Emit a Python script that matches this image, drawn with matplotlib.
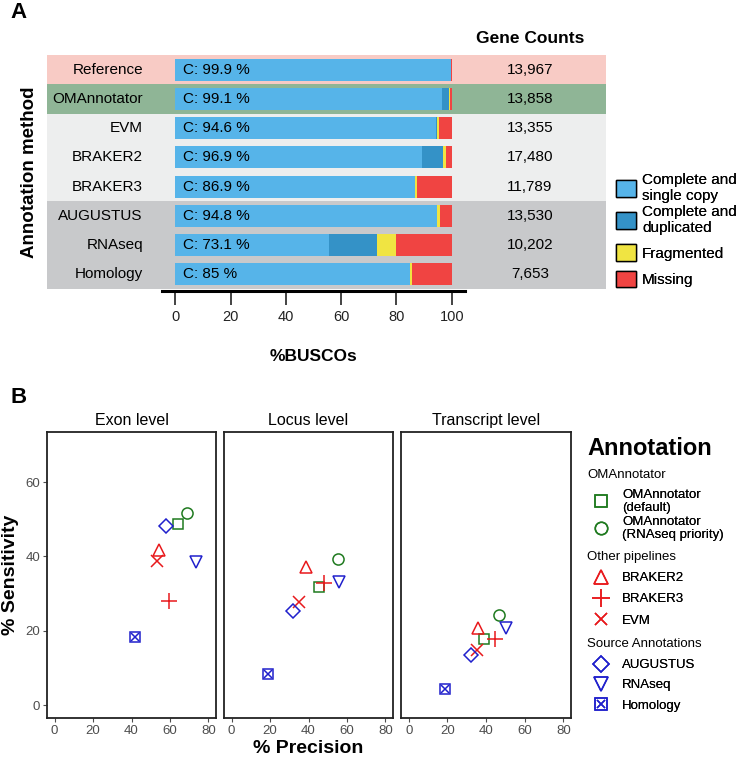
import matplotlib
matplotlib.use("Agg")
from matplotlib import pyplot as plt
from matplotlib.patches import Patch
from matplotlib.lines import Line2D
from matplotlib.legend_handler import HandlerTuple
import numpy as np

plt.rcParams['font.family'] = ['Liberation Sans', 'DejaVu Sans']

# ---- panel A data ----
methods = ["Reference", "OMAnnotator", "EVM", "BRAKER2", "BRAKER3",
           "AUGUSTUS", "RNAseq", "Homology"]
complete = [99.9, 99.1, 94.6, 96.9, 86.9, 94.8, 73.1, 85.0]
single = [99.9, 96.6, 94.3, 89.2, 86.7, 94.6, 55.6, 85.0]
fragmented = [0.0, 0.3, 0.7, 1.2, 0.4, 0.8, 6.9, 0.5]
missing = [0.1, 0.6, 4.7, 1.9, 12.7, 4.4, 20.0, 14.5]
gene_counts = ["13,967", "13,858", "13,355", "17,480", "11,789",
               "13,530", "10,202", "7,653"]
row_group = ["ref", "oma", "other", "other", "other", "src", "src", "src"]
busco_labels = ["Complete and\nsingle copy", "Complete and\nduplicated",
                "Fragmented", "Missing"]

# ---- panel B data ----
levels = ["Exon level", "Locus level", "Transcript level"]
tools = ["OMAnnotator (default)", "OMAnnotator (RNAseq priority)", "BRAKER2",
         "BRAKER3", "EVM", "AUGUSTUS", "RNAseq", "Homology"]
precision = {
    "Exon level":       [64.0, 68.8, 54.4, 59.4, 53.5, 57.8, 73.5, 41.6],
    "Locus level":      [45.4, 55.2, 38.5, 48.3, 35.0, 32.0, 56.0, 18.8],
    "Transcript level": [38.9, 46.5, 35.9, 44.6, 35.2, 32.1, 50.6, 18.7],
}
sensitivity = {
    "Exon level":       [48.6, 51.8, 41.7, 28.1, 38.8, 48.1, 38.6, 18.3],
    "Locus level":      [31.7, 39.3, 37.1, 32.9, 27.6, 25.4, 33.1, 8.4],
    "Transcript level": [17.9, 24.3, 20.7, 17.9, 14.7, 13.5, 20.8, 4.4],
}

busco_colors = ["#56B4E9", "#3492C7", "#F0E442", "#F04442"]
bg_colors = {"ref": "#F8CBC5", "oma": "#8FB596", "other": "#EDEEEE", "src": "#C8C9CB"}
green, red, blue = "#1F7A1F", "#E8191C", "#2020CC"
tool_style = {
    "OMAnnotator (default)": (green, "s", 7.5),
    "OMAnnotator (RNAseq priority)": (green, "o", 8),
    "BRAKER2": (red, "^", 9),
    "BRAKER3": (red, "+", 11),
    "EVM": (red, "x", 8),
    "AUGUSTUS": (blue, "D", 7),
    "RNAseq": (blue, "v", 9),
    "Homology": (blue, "s", 7.5),
}

W, H = 752, 759
fig = plt.figure(figsize=(W / 100, H / 100), dpi=100)


def px_axes(x0, y0, x1, y1):
    return fig.add_axes([x0 / W, 1 - y1 / H, (x1 - x0) / W, (y1 - y0) / H])


# ================= panel A =================
ax = px_axes(47, 55, 606, 289)
ppu = (451.7 - 175) / 100
ax.set_xlim((47 - 175) / ppu, (606 - 175) / ppu)
n = len(methods)
ax.set_ylim(n - 0.5, -0.5)
ax.axis("off")

y = np.arange(n)
for i, g in enumerate(row_group):
    ax.axhspan(i - 0.5, i + 0.5, color=bg_colors[g], lw=0, zorder=0)

single = np.array(single)
dup = np.array(complete) - single
frag = np.array(fragmented)
miss = np.array(missing)
left = np.zeros(n)
for vals, c in zip([single, dup, frag, miss], busco_colors):
    ax.barh(y, vals, left=left, height=0.75, color=c, lw=0, zorder=2)
    left = left + vals

for i in range(n):
    ax.text(3, i, f"C: {complete[i]:g} %", va="center", ha="left", fontsize=11, zorder=3)
    ax.text(-11.6, i, methods[i], va="center", ha="right", fontsize=11)
    ax.text(128.3, i, gene_counts[i], va="center", ha="center", fontsize=11)
ax.text(128.3, -1.07, "Gene Counts", va="center", ha="center", fontsize=12.5,
        fontweight="bold")

# x axis of panel A
axx = px_axes(162, 285, 465, 291)
axx.set_xlim(-4.8, 104.8)
axx.set_yticks([])
axx.patch.set_alpha(0)
for s in ["top", "left", "right"]:
    axx.spines[s].set_visible(False)
axx.spines["bottom"].set_linewidth(2.2)
axx.set_xticks([0, 20, 40, 60, 80, 100])
axx.tick_params(axis="x", length=10, width=1.2, labelsize=10.5, pad=4, colors="#222222")
axx.set_xlabel("%BUSCOs", fontsize=12.5, fontweight="bold", labelpad=18)

fig.text(30 / W, 1 - 172 / H, "Annotation method", rotation=90, ha="center", va="center",
         fontsize=13.5, fontweight="bold")
fig.text(10 / W, 1 - 13 / H, "A", ha="left", va="center", fontsize=16, fontweight="bold")

# one legend key per BUSCO category, stacked like the ggplot keys
legend_a_y = [188, 220, 252.5, 279]
for c, lab, ky in zip(busco_colors, busco_labels, legend_a_y):
    leg = fig.legend([Patch(facecolor=c, edgecolor="black", lw=1)], [lab],
                     loc="center left", bbox_to_anchor=(616 / W, 1 - ky / H),
                     frameon=False, fontsize=11, handlelength=1.3, handleheight=1.3,
                     handletextpad=0.4, borderpad=0, borderaxespad=0)
    for t in leg.get_texts():
        t.set_linespacing(1.15)
    fig.add_artist(leg)

# ================= panel B =================
fig.text(10 / W, 1 - 397 / H, "B", ha="left", va="center", fontsize=16, fontweight="bold")
panels = [(47, 216), (224, 393), (401, 571)]
for k, (lev, (x0, x1)) in enumerate(zip(levels, panels)):
    axb = px_axes(x0, 432, x1, 718)
    for t, xv, yv in zip(tools, precision[lev], sensitivity[lev]):
        c, m, ms = tool_style[t]
        axb.plot(xv, yv, marker=m, ms=ms, mfc="none", mec=c, mew=1.1, ls="none")
        if t == "Homology":
            axb.plot(xv, yv, marker="x", ms=5.5, mec=c, mew=1.1, ls="none")
    axb.set_xlim(-4, 84)
    axb.set_ylim(-3.5, 73.5)
    axb.set_xticks([0, 20, 40, 60, 80])
    axb.set_yticks([0, 20, 40, 60])
    axb.tick_params(colors="#4D4D4D", labelsize=9.5, length=3, width=0.8, pad=2)
    for s in axb.spines.values():
        s.set_linewidth(1.3)
        s.set_color("#222222")
    if k > 0:
        axb.tick_params(axis="y", left=False, labelleft=False)
    axb.set_title(lev, fontsize=11.5, pad=5)
    if k == 0:
        axb.set_ylabel("% Sensitivity", fontsize=14, fontweight="bold")
        axb.yaxis.set_label_coords(-0.163, 0.5)
    if k == 1:
        axb.set_xlabel("% Precision", fontsize=14, fontweight="bold", labelpad=2)


def tool_handle(t):
    c, m, ms = tool_style[t]
    h = Line2D([], [], marker=m, ms=ms * 1.12, mfc="none", mec=c, mew=1.1, ls="none")
    if t == "Homology":
        return (h, Line2D([], [], marker="x", ms=6, mec=c, mew=1.1, ls="none"))
    return h


fig.text(587 / W, 1 - 449 / H, "Annotation", ha="left", va="center", fontsize=17,
         fontweight="bold")
groups = [
    ("OMAnnotator", ["OMAnnotator (default)", "OMAnnotator (RNAseq priority)"],
     ["OMAnnotator\n(default)", "OMAnnotator\n(RNAseq priority)"], 474.7, 488.5, 0.15),
    ("Other pipelines", ["BRAKER2", "BRAKER3", "EVM"], ["BRAKER2", "BRAKER3", "EVM"],
     556.7, 572, 0.68),
    ("Source Annotations", ["AUGUSTUS", "RNAseq", "Homology"],
     ["AUGUSTUS", "RNAseq", "Homology"], 644.3, 659, 0.6),
]
for title, keys, labels, ty, top, spacing in groups:
    fig.text(587 / W, 1 - ty / H, title, ha="left", va="center", fontsize=9.5)
    leg = fig.legend([tool_handle(t) for t in keys], labels,
                     loc="upper left", bbox_to_anchor=(587 / W, 1 - top / H),
                     frameon=False, fontsize=9.5,
                     handlelength=2.1, handletextpad=0.55,
                     labelspacing=spacing, borderpad=0, borderaxespad=0,
                     handler_map={tuple: HandlerTuple(ndivide=1, pad=0)})
    for t in leg.get_texts():
        t.set_linespacing(1.15)
    fig.add_artist(leg)

fig.savefig("out.png", dpi=100)
